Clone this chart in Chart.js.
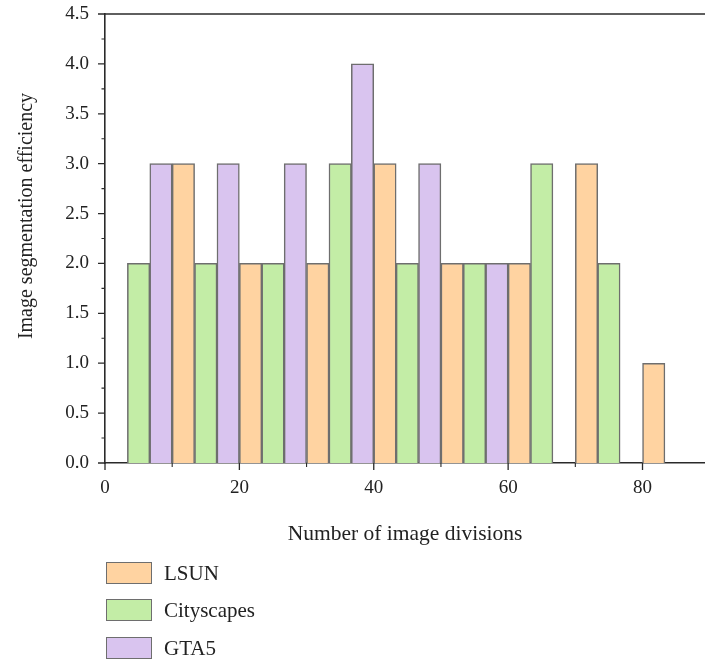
<!DOCTYPE html>
<html><head><meta charset="utf-8">
<script src="https://cdn.jsdelivr.net/npm/chart.js@4"></script>
<style>
html,body{margin:0;padding:0;background:#fff;}
#wrap{position:relative;width:705px;height:665px;overflow:hidden;}
#c{position:absolute;left:0;top:0;}
.item{position:absolute;left:106px;height:22px;display:flex;align-items:center;font-family:"Liberation Serif",serif;font-size:21px;color:#222;}
.box{width:46px;height:22px;border:1.5px solid #6e6e6e;box-sizing:border-box;margin-right:12px;}
</style>
</head><body>
<div id="wrap">
<canvas id="c" width="705" height="665"></canvas>
<div class="item" style="top:562px"><div class="box" style="background:#FFD3A1"></div><span>LSUN</span></div>
<div class="item" style="top:599px"><div class="box" style="background:#C3EDA6"></div><span>Cityscapes</span></div>
<div class="item" style="top:637px"><div class="box" style="background:#D9C4EF"></div><span>GTA5</span></div>
</div>
<script>
// ---- data ----
const lsunX = [11.67, 21.67, 31.67, 41.67, 51.67, 61.67, 71.67, 81.67];
const lsunY = [3, 2, 2, 3, 2, 2, 3, 1];
const cityX = [5, 15, 25, 35, 45, 55, 65, 75];
const cityY = [2, 2, 2, 3, 2, 2, 3, 2];
const gtaX = [8.33, 18.33, 28.33, 38.33, 48.33, 58.33];
const gtaY = [3, 3, 3, 4, 3, 2];
const xMajorTicks = [0, 20, 40, 60, 80];
const xMinorTicks = [10, 30, 50, 70];
const yMajorTicks = [0, 0.5, 1, 1.5, 2, 2.5, 3, 3.5, 4, 4.5];
const yMinorTicks = [0.25, 0.75, 1.25, 1.75, 2.25, 2.75, 3.25, 3.75, 4.25];
const xTitle = 'Number of image divisions';
const yTitle = 'Image segmentation efficiency';

const pts = (xs, ys) => xs.map((x, i) => ({x: x, y: ys[i]}));
const FONT = '"Liberation Serif", "Times New Roman", serif';
const AX = '#2a2a2a';

const decor = {
  id: 'decor',
  afterDraw(chart) {
    const {ctx, chartArea: a, scales: {x, y}} = chart;
    ctx.save();
    ctx.strokeStyle = AX; ctx.lineWidth = 1.6;
    ctx.beginPath(); ctx.moveTo(a.left, a.top); ctx.lineTo(chart.width, a.top); ctx.stroke();
    ctx.lineWidth = 1.3;
    ctx.beginPath();
    yMajorTicks.forEach(v => { const p = y.getPixelForValue(v); ctx.moveTo(a.left - 7, p); ctx.lineTo(a.left, p); });
    xMajorTicks.forEach(v => { const p = x.getPixelForValue(v); ctx.moveTo(p, a.bottom); ctx.lineTo(p, a.bottom + 7); });
    ctx.stroke();
    ctx.lineWidth = 1.1;
    ctx.beginPath();
    yMinorTicks.forEach(v => { const p = y.getPixelForValue(v); ctx.moveTo(a.left - 3.5, p); ctx.lineTo(a.left, p); });
    xMinorTicks.forEach(v => { const p = x.getPixelForValue(v); ctx.moveTo(p, a.bottom); ctx.lineTo(p, a.bottom + 4); });
    ctx.stroke();
    ctx.translate(27, 216);
    ctx.rotate(-Math.PI / 2);
    ctx.fillStyle = '#222';
    ctx.font = '20px ' + FONT;
    ctx.textAlign = 'center'; ctx.textBaseline = 'middle';
    ctx.fillText(yTitle, 0, 0);
    ctx.restore();
  }
};

new Chart(document.getElementById('c'), {
  type: 'bar',
  data: {
    datasets: [
      {label: 'LSUN', data: pts(lsunX, lsunY), backgroundColor: '#FFD3A1'},
      {label: 'Cityscapes', data: pts(cityX, cityY), backgroundColor: '#C3EDA6'},
      {label: 'GTA5', data: pts(gtaX, gtaY), backgroundColor: '#D9C4EF'}
    ]
  },
  options: {
    responsive: false,
    animation: false,
    layout: {padding: {top: 14, right: 0, bottom: 112, left: 0}},
    datasets: {bar: {grouped: false, barPercentage: 1, categoryPercentage: 1, borderWidth: 1.5, borderColor: '#6e6e6e'}},
    plugins: {legend: {display: false}, tooltip: {enabled: false}},
    scales: {
      x: {
        type: 'linear', min: 0, max: 89.3, offset: false,
        afterBuildTicks: s => { s.ticks = xMajorTicks.map(v => ({value: v})); },
        afterFit: s => { s.height = 90; s.paddingLeft = 0; s.paddingRight = 0; },
        ticks: {font: {family: FONT, size: 19}, color: '#222', padding: 6},
        grid: {display: false},
        border: {display: true, color: AX, width: 1.6},
        title: {display: true, text: xTitle, font: {family: FONT, size: 21.5}, color: '#222', padding: {top: 4, bottom: 6}}
      },
      y: {
        min: 0, max: 4.5,
        afterBuildTicks: s => { s.ticks = yMajorTicks.map(v => ({value: v})); },
        afterFit: s => { s.width = 105; s.paddingTop = 0; s.paddingBottom = 0; },
        ticks: {font: {family: FONT, size: 19}, color: '#222', padding: 8, callback: v => v.toFixed(1)},
        grid: {display: false},
        border: {display: true, color: AX, width: 1.6}
      }
    }
  },
  plugins: [decor]
});
</script>
</body></html>
